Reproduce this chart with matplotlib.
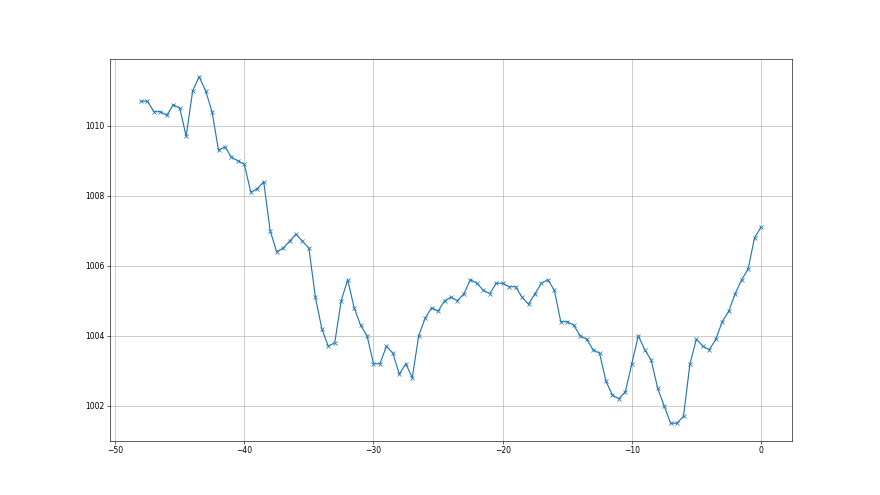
import numpy as np
import matplotlib
matplotlib.use('Agg')
import matplotlib.pyplot as plt

# horas relativas (passo de meia hora)
hours = np.arange(-48, 0.5, 0.5)

# pressão
pressure = [
    1010.7, 1010.7, 1010.4, 1010.4, 1010.3, 1010.6, 1010.5, 1009.7, 1011.0, 1011.4,
    1011.0, 1010.4, 1009.3, 1009.4, 1009.1, 1009.0, 1008.9, 1008.1, 1008.2, 1008.4,
    1007.0, 1006.4, 1006.5, 1006.7, 1006.9, 1006.7, 1006.5, 1005.1, 1004.2, 1003.7,
    1003.8, 1005.0, 1005.6, 1004.8, 1004.3, 1004.0, 1003.2, 1003.2, 1003.7, 1003.5,
    1002.9, 1003.2, 1002.8, 1004.0, 1004.5, 1004.8, 1004.7, 1005.0, 1005.1, 1005.0,
    1005.2, 1005.6, 1005.5, 1005.3, 1005.2, 1005.5, 1005.5, 1005.4, 1005.4, 1005.1,
    1004.9, 1005.2, 1005.5, 1005.6, 1005.3, 1004.4, 1004.4, 1004.3, 1004.0, 1003.9,
    1003.6, 1003.5, 1002.7, 1002.3, 1002.2, 1002.4, 1003.2, 1004.0, 1003.6, 1003.3,
    1002.5, 1002.0, 1001.5, 1001.5, 1001.7, 1003.2, 1003.9, 1003.7, 1003.6, 1003.9,
    1004.4, 1004.7, 1005.2, 1005.6, 1005.9, 1006.8, 1007.1,
]

fig = plt.figure(figsize=(16, 9), dpi=55)
plt.plot(hours, pressure, marker='x')
plt.grid(True)
plt.savefig('out.png', dpi=55)
